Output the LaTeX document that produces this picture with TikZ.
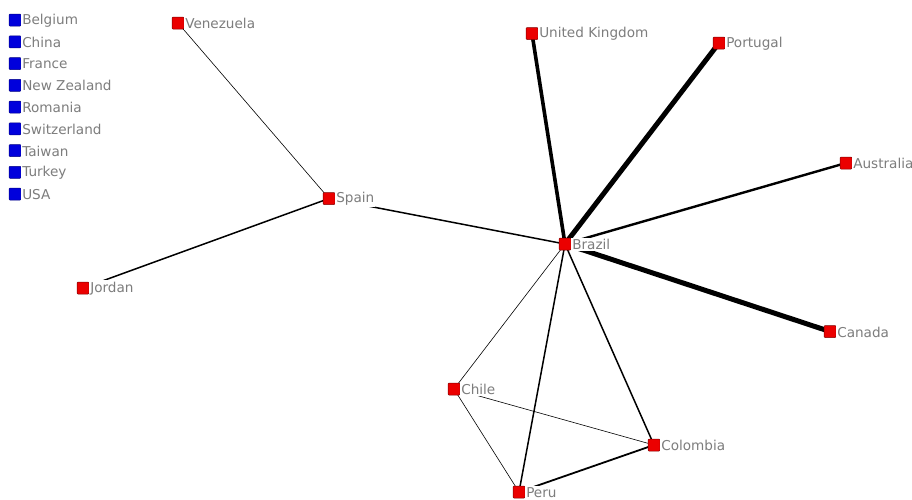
\documentclass[tikz,border=0pt]{standalone}
\usepackage{fontspec}
\setmainfont{DejaVu Sans}
\usetikzlibrary{backgrounds}
\definecolor{nodered}{RGB}{235,0,0}
\definecolor{nodeblue}{RGB}{0,0,220}
\definecolor{labelgray}{RGB}{125,125,125}
\tikzset{
  sqr/.style={rectangle, rounded corners=1pt, draw=red!50!black, fill=nodered, line width=0.5pt, minimum size=12pt, inner sep=0pt},
  sqb/.style={rectangle, rounded corners=1pt, draw=nodeblue!60!black, fill=nodeblue, line width=0.5pt, minimum size=12pt, inner sep=0pt},
  lbl/.style={anchor=west, fill=white, text=labelgray, inner xsep=0.8pt, inner ysep=1.5pt,
    font=\fontsize{13.6}{15}\selectfont},
  tie/.style={draw=black, line cap=round}
}
\newcommand\netnode[5]{%
  \node[#1] (#2) at (#3,#4) {};
  \node[lbl] (#2-l) at ([yshift=-0.5pt]#2.east) {#5};}
\begin{document}
\begin{tikzpicture}[x=1pt,y=-1pt]
\useasboundingbox (0,0) rectangle (912,499);
% legend (isolates)
\netnode{sqb}{be}{15}{20}{Belgium}
\netnode{sqb}{cn}{15}{41.75}{China}
\netnode{sqb}{fr}{15}{63.5}{France}
\netnode{sqb}{nz}{15}{85.25}{New Zealand}
\netnode{sqb}{ro}{15}{107}{Romania}
\netnode{sqb}{ch}{15}{128.75}{Switzerland}
\netnode{sqb}{tw}{15}{150.5}{Taiwan}
\netnode{sqb}{tr}{15}{172.25}{Turkey}
\netnode{sqb}{us}{15}{194}{USA}
% network
\netnode{sqr}{ve}{178}{23}{Venezuela}
\netnode{sqr}{uk}{532}{33.5}{United Kingdom}
\netnode{sqr}{pt}{719}{43}{Portugal}
\netnode{sqr}{au}{846}{163}{Australia}
\netnode{sqr}{es}{329}{198.5}{Spain}
\netnode{sqr}{br}{565}{244}{Brazil}
\netnode{sqr}{jo}{83}{288}{Jordan}
\netnode{sqr}{ca}{830}{331.5}{Canada}
\netnode{sqr}{cl}{454}{389}{Chile}
\netnode{sqr}{co}{654}{445}{Colombia}
\netnode{sqr}{pe}{519}{492}{Peru}
\begin{scope}[on background layer]
\draw[tie, line width=0.6pt] (ve.center) -- (es.center);
\draw[tie, line width=1.5pt] (es.center) -- (jo.center);
\draw[tie, line width=1.5pt] (es.center) -- (br.center);
\draw[tie, line width=3.6pt] (uk.center) -- (br.center);
\draw[tie, line width=5pt] (pt.center) -- (br.center);
\draw[tie, line width=2.4pt] (au.center) -- (br.center);
\draw[tie, line width=5pt] (ca.center) -- (br.center);
\draw[tie, line width=0.6pt] (br.center) -- (cl.center);
\draw[tie, line width=1.5pt] (br.center) -- (pe.center);
\draw[tie, line width=1.5pt] (br.center) -- (co.center);
\draw[tie, line width=0.6pt] (cl.center) -- (pe.center);
\draw[tie, line width=0.6pt] (cl.center) -- (co.center);
\draw[tie, line width=1.8pt] (pe.center) -- (co.center);
\end{scope}
\end{tikzpicture}
\end{document}
